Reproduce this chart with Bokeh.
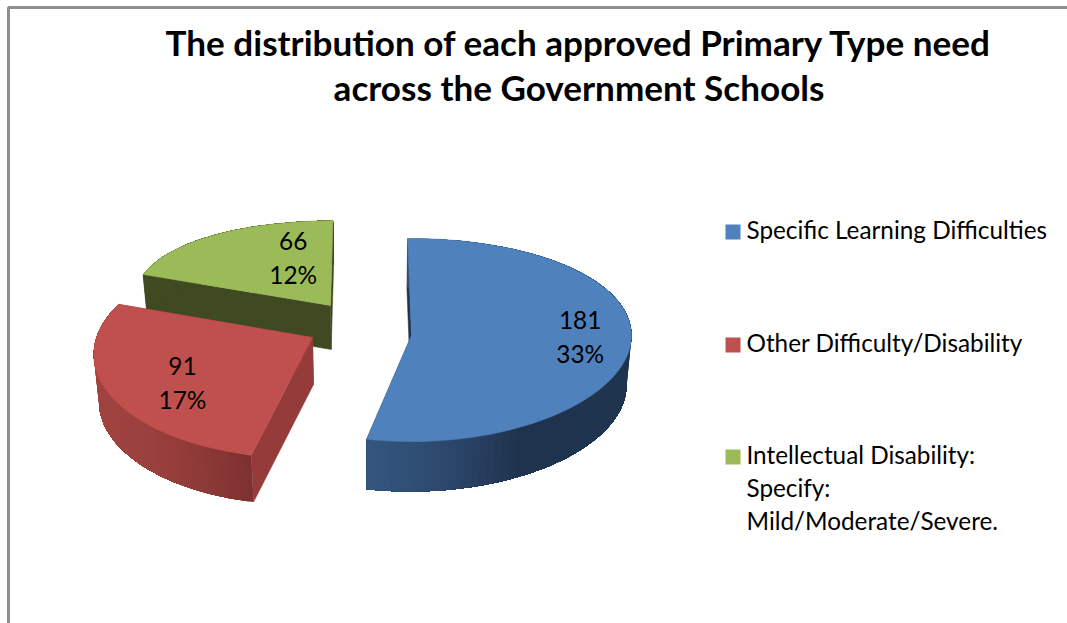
import numpy as np
from bokeh.core.properties import value
from bokeh.embed import file_html
from bokeh.models import Range1d
from bokeh.plotting import figure
from bokeh.resources import INLINE

title_lines = ["The distribution of each approved Primary Type need",
               "across the Government Schools"]
categories = ["Specific Learning Difficulties",
              "Other Difficulty/Disability",
              "Intellectual Disability:\nSpecify:\nMild/Moderate/Severe."]
counts = [181, 91, 66]
printed_percent = [33, 17, 12]
top_colors = ["#4f81bd", "#c0504d", "#9bbb59"]
inner_wall_colors = ["#1f344f", "#953c3a", "#404a22"]

FONT = value("Lato")
START_ANGLE = -1.0
VANISH_X = 367.0
NARROW = 0.019

# Projection of each exploded slice: apex, radii, perspective terms, depth and label placement.
slices = [
    dict(ax=411, ay=335, a=220, p=0.0, s=0, b=101.5, q=0.045, depth=50, lr=0.77, ldy=-5,
         ramp=[(367, "#34577f"), (450, "#2c476b"), (520, "#1f334d"), (635, "#1f344f")]),
    dict(ax=312, ay=337, a=216, p=0.1, s=13, b=107.5, q=0.119, depth=47, lr=0.64, ldy=10,
         ramp=[(93, "#a04440"), (150, "#9a403d"), (200, "#8e3a38"), (255, "#7b302f")]),
    dict(ax=330, ay=305, a=200, p=0.0, s=6, b=102.6, q=0.172, depth=44, lr=0.33, ldy=-23.5,
         ramp=[(140, "#404a22"), (335, "#404a22")]),
]


def rim(sl, theta_deg, r=1.0):
    t = np.radians(theta_deg)
    sin_t, cos_t = np.sin(t), np.cos(t)
    x = sl["ax"] + r * sl["a"] * sin_t * (1 - sl["p"] * cos_t) + r * sl["s"] * cos_t
    y = sl["ay"] - r * sl["b"] * cos_t * (1 - sl["q"] * cos_t)
    return x, y


def lowered(sl, x, y):
    return x + (VANISH_X - x) * NARROW, y + sl["depth"]


def ramp_color(ramp, x):
    xs = [stop[0] for stop in ramp]
    rgb = np.array([[int(stop[1][i:i + 2], 16) for i in (1, 3, 5)] for stop in ramp], float)
    mixed = [int(round(np.interp(x, xs, rgb[:, c]))) for c in range(3)]
    return "#%02x%02x%02x" % tuple(mixed)


p = figure(width=1067, height=623, output_backend="svg", toolbar_location=None,
           x_range=Range1d(0, 1067), y_range=Range1d(623, 0),
           min_border=0, outline_line_color=None, background_fill_color="white")
p.axis.visible = False
p.grid.visible = False

# Chart area border: only the top and left edges are drawn.
p.line([8, 8, 1067], [623, 7, 7], line_color="#8e8e8e", line_width=3)

total = sum(counts)
sweeps = [360.0 * c / total for c in counts]
starts = START_ANGLE + np.concatenate(([0.0], np.cumsum(sweeps)[:-1]))

# Painted back to front so nearer slices overlap the green one.
for i in (2, 1, 0):
    sl = slices[i]
    th0, th1 = starts[i], starts[i] + sweeps[i]
    thetas = np.linspace(th0, th1, 91)
    rx, ry = rim(sl, thetas)
    lx, ly = lowered(sl, rx, ry)
    ax, ay = float(sl["ax"]), float(sl["ay"])
    alx, aly = lowered(sl, ax, ay)

    # Cut faces of the slice
    for end in (0, -1):
        p.patch([rx[end], ax, alx, lx[end]], [ry[end], ay, aly, ly[end]],
                fill_color=inner_wall_colors[i], line_color=inner_wall_colors[i], line_width=0.5)

    # Outer rim wall: each band runs to the arc's end and is overpainted by the next, leaving no seams
    for j in range(len(thetas) - 1):
        col = ramp_color(sl["ramp"], 0.5 * (rx[j] + rx[j + 1]))
        p.patch(np.concatenate((rx[j:], lx[j:][::-1])), np.concatenate((ry[j:], ly[j:][::-1])),
                fill_color=col, line_color=None)

    # Top face
    p.patch(np.concatenate(([ax], rx)), np.concatenate(([ay], ry)),
            fill_color=top_colors[i], line_color=top_colors[i], line_width=0.5)

# Two-line data labels placed along each slice's bisector
for i, sl in enumerate(slices):
    lab_x, lab_y = rim(sl, starts[i] + sweeps[i] / 2, sl["lr"])
    lab_y += sl["ldy"]
    p.text([lab_x, lab_x], [lab_y - 17.5, lab_y + 16],
           text=[str(counts[i]), f"{printed_percent[i]}%"],
           text_font=FONT, text_font_size="24.4px", text_color="#000000",
           text_align="center", text_baseline="middle")

# Title
p.text([578.5, 578.5], [41, 86], text=title_lines, text_font=FONT, text_font_size="35.1px",
       text_font_style="bold", text_color="#000000", text_align="center", text_baseline="middle")

# Legend
legend_rows = [231, 344, 456]
for i, cat in enumerate(categories):
    p.rect([732.5], [legend_rows[i] + 0.5], width=15, height=15,
           fill_color=top_colors[i], line_color=None)
    lines = cat.split("\n")
    p.text([746] * len(lines), [legend_rows[i] - 2 + 33 * k for k in range(len(lines))], text=lines,
           text_font=FONT, text_font_size="24.3px", text_color="#000000",
           text_align="left", text_baseline="middle")

open("out.html", "w").write(file_html(p, INLINE))
